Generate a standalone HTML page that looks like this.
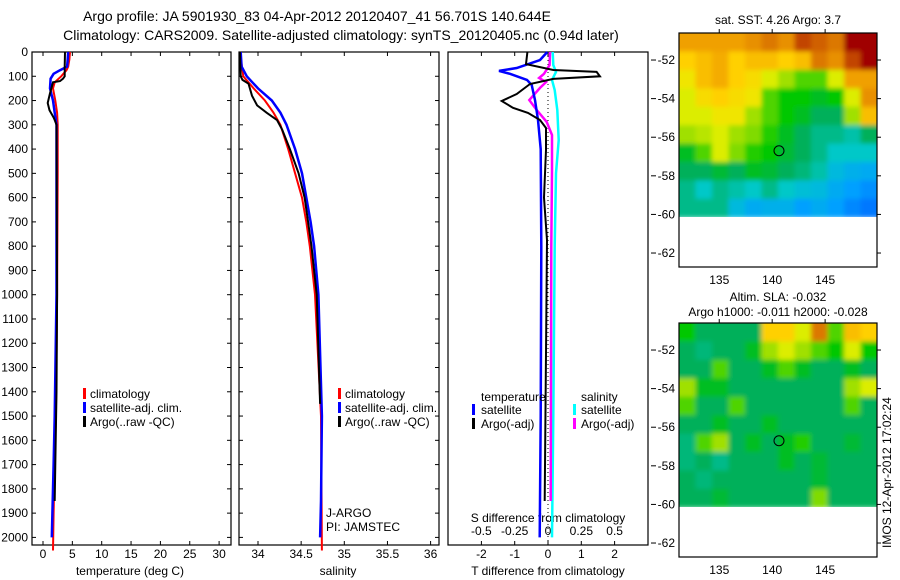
<!DOCTYPE html>
<html><head><meta charset="utf-8"><style>
body{margin:0;background:#fff}
svg{display:block;font-family:"Liberation Sans",sans-serif;font-size:12px}
</style></head><body>
<svg id="c" width="900" height="580" xmlns="http://www.w3.org/2000/svg">
<defs>
<filter id="blur" x="-5%" y="-5%" width="110%" height="110%"><feGaussianBlur stdDeviation="2.5"/></filter>
<clipPath id="clip1"><rect x="679" y="33" width="198" height="184"/></clipPath>
<clipPath id="clip2"><rect x="679" y="323" width="198" height="184"/></clipPath>
</defs>
</svg>
<script>
// ---- data ----
const tClimDepth=[0,30,60,75,100,125,150,200,250,300,500,1000,1500,1700,1900,2054];
const tClimVal=[4.6,4.5,4.3,4.0,3.1,2.0,1.7,2.1,2.4,2.5,2.5,2.4,2.2,2.0,1.8,1.7];
const tSatDepth=[0,30,60,75,90,110,150,200,250,300,1000,1500,1700,1900,2000];
const tSatVal=[4.3,4.2,4.1,2.9,1.8,1.3,1.2,1.7,2.0,2.3,2.3,2.0,1.8,1.6,1.5];
const tArgoDepth=[0,60,100,110,120,125,170,210,240,270,280,300,1000,1400,1850];
const tArgoVal=[3.75,3.7,3.7,3.4,2.9,1.7,1.2,0.8,1.1,1.8,2.0,2.3,2.4,2.3,2.0];
const sClimDepth=[0,100,150,200,250,300,400,500,600,700,800,1000,1500,2054];
const sClimVal=[33.79,33.83,33.95,34.08,34.18,34.26,34.35,34.43,34.51,34.56,34.6,34.66,34.73,34.74];
const sSatDepth=[0,60,100,150,200,250,300,400,500,600,700,800,1000,1500,1850,2000];
const sSatVal=[33.8,33.81,33.87,34.0,34.16,34.26,34.33,34.43,34.51,34.56,34.61,34.65,34.7,34.74,34.73,34.72];
const sArgoDepth=[0,100,115,130,180,220,250,280,320,400,500,600,700,800,900,1000,1450];
const sArgoVal=[33.79,33.8,33.82,33.89,33.93,33.99,34.1,34.22,34.28,34.37,34.47,34.54,34.58,34.62,34.65,34.68,34.72];
const dTSatDepth=[0,33,66,78,90,115,136,198,280,400,800,1500,2000];
const dTSatVal=[-0.02,-0.24,-0.94,-1.47,-1.14,-0.63,-0.49,-0.39,-0.3,-0.22,-0.2,-0.22,-0.25];
const dTArgoDepth=[0,50,74,82,100,111,132,173,202,230,251,280,313,404,600,775,1850];
const dTArgoVal=[-0.62,-0.66,0.16,1.46,1.56,0.16,-0.54,-0.94,-1.39,-1.05,-0.6,-0.24,-0.06,-0.06,-0.12,-0.03,-0.1];
const dSArgoDepth=[0,54,90,107,124,148,198,239,288,342,486,800,1850];
const dSArgoVal=[0.015,0.012,-0.03,-0.067,-0.015,-0.06,-0.14,-0.085,-0.01,0.03,0.03,0.025,0.02];
const dSSatDepth=[0,54,82,115,157,239,363,500,800,1500,2000];
const dSSatVal=[0.035,0.04,0.06,0.03,0.05,0.07,0.08,0.06,0.05,0.04,0.03];
const depthTicks=[0,100,200,300,400,500,600,700,800,900,1000,1100,1200,1300,1400,1500,1600,1700,1800,1900,2000];
const tTicks=[0,5,10,15,20,25,30];
const sTicks=[34,34.5,35,35.5,36];
const sTickLabels=["34","34.5","35","35.5","36"];
const dTTicks=[-2,-1,0,1,2];
const dSTicks=[-0.5,-0.25,0,0.25,0.5];
const dSTickLabels=["-0.5","-0.25","0","0.25","0.5"];
const latTicks=[-52,-54,-56,-58,-60,-62];
const lonTicks=[135,140,145];
const sstGrid=[
[0.8,0.8,0.8,0.8,0.82,0.85,0.82,0.9,0.88,0.85,0.95,0.95],
[0.72,0.75,0.78,0.72,0.75,0.75,0.72,0.75,0.85,0.82,0.9,0.95],
[0.68,0.75,0.78,0.72,0.7,0.65,0.6,0.55,0.55,0.65,0.8,0.8],
[0.65,0.7,0.72,0.7,0.68,0.55,0.5,0.5,0.48,0.5,0.65,0.82],
[0.65,0.65,0.68,0.68,0.6,0.55,0.5,0.48,0.45,0.45,0.6,0.75],
[0.6,0.62,0.65,0.6,0.58,0.52,0.48,0.45,0.42,0.42,0.4,0.45],
[0.48,0.55,0.65,0.58,0.52,0.5,0.47,0.45,0.42,0.38,0.38,0.38],
[0.45,0.45,0.47,0.45,0.48,0.47,0.45,0.43,0.4,0.35,0.33,0.32],
[0.42,0.38,0.42,0.4,0.38,0.42,0.38,0.36,0.35,0.32,0.3,0.28],
[0.42,0.42,0.42,0.35,0.32,0.33,0.33,0.3,0.32,0.3,0.27,0.25]];
const slaGrid=[
[0.5,0.45,0.45,0.45,0.45,0.72,0.72,0.65,0.85,0.55,0.75,0.72],
[0.45,0.43,0.45,0.45,0.48,0.6,0.65,0.6,0.55,0.5,0.65,0.5],
[0.45,0.45,0.55,0.45,0.45,0.48,0.55,0.48,0.45,0.45,0.48,0.45],
[0.6,0.48,0.48,0.45,0.45,0.45,0.45,0.45,0.45,0.45,0.6,0.65],
[0.55,0.45,0.45,0.55,0.45,0.45,0.45,0.45,0.45,0.45,0.55,0.45],
[0.45,0.45,0.48,0.45,0.45,0.48,0.45,0.45,0.45,0.45,0.45,0.45],
[0.43,0.55,0.6,0.45,0.48,0.45,0.48,0.52,0.45,0.45,0.47,0.45],
[0.43,0.45,0.42,0.45,0.45,0.45,0.48,0.45,0.47,0.45,0.45,0.45],
[0.45,0.43,0.45,0.45,0.45,0.45,0.45,0.45,0.47,0.45,0.45,0.45],
[0.45,0.45,0.47,0.45,0.45,0.45,0.45,0.45,0.58,0.45,0.45,0.45]];
const floatLon=140.644, floatLat=-56.701;

// ---- helpers ----
const NS="http://www.w3.org/2000/svg";
const svg=document.getElementById('c');
function el(tag,attrs,parent){const e=document.createElementNS(NS,tag);for(const k in attrs)e.setAttribute(k,attrs[k]);(parent||svg).appendChild(e);return e;}
function txt(x,y,s,anchor,name,extra){const t=el('text',Object.assign({x:x,y:y,'text-anchor':anchor||'start',fill:'#000'},extra||{}));t.textContent=s;


return t;}
const yD=d=>52+d*0.2427;
const pTop=52,pBot=545;

function frame(x0,x1,name){const r=el('rect',{x:x0,y:pTop,width:x1-x0,height:pBot-pTop,fill:'none',stroke:'#000','stroke-width':1.2});

}
function line(depths,vals,fx,color,w,name,extra){
  let p=depths.map((d,i)=>fx(vals[i]).toFixed(1)+','+yD(d).toFixed(1)).join(' ');
  const pl=el('polyline',Object.assign({points:p,fill:'none',stroke:color,'stroke-width':w},extra||{}));
  
  
}
function depthAxis(x0,x1,labels){
  depthTicks.forEach(d=>{const y=yD(d);
    el('line',{x1:x0,y1:y,x2:x0+4,y2:y,stroke:'#000'});
    el('line',{x1:x1,y1:y,x2:x1-4,y2:y,stroke:'#000'});
    if(labels)txt(28,y+4,String(d),'end','depth-tick-label');});
}
function xTicks(vals,labs,fx,ly,tickTop,tickBot,name){
  vals.forEach((v,i)=>{const x=fx(v);
    if(tickTop)el('line',{x1:x,y1:pTop,x2:x,y2:pTop+4,stroke:'#000'});
    if(tickBot)el('line',{x1:x,y1:pBot,x2:x,y2:pBot-4,stroke:'#000'});
    txt(x,ly,labs[i],'middle',name);});
}
function legendBar(x,y,color,name){const r=el('rect',{x:x,y:y-10,width:3,height:11,fill:color});

}

// titles
txt(317,21,"Argo profile: JA 5901930_83 04-Apr-2012 20120407_41 56.701S 140.644E",'middle','figure-title',{'font-size':'14'});
txt(341,40,"Climatology: CARS2009. Satellite-adjusted climatology: synTS_20120405.nc (0.94d later)",'middle','figure-subtitle',{'font-size':'14'});

// ---- panel 1 temperature ----
const fT=v=>43+v*5.87;
frame(32,231,'temperature-panel');
depthAxis(32,231,true);
xTicks(tTicks,tTicks.map(String),fT,558,true,true,'temperature-tick-label');
txt(130,575,"temperature (deg C)",'middle','temperature-axis-title');
line(tClimDepth,tClimVal,fT,'#f00',2,'temperature-climatology-line');
line(tSatDepth,tSatVal,fT,'#00f',2.5,'temperature-satellite-line');
line(tArgoDepth,tArgoVal,fT,'#000',2,'temperature-argo-line');
legendBar(83,398,'#f00','legend-climatology-swatch');txt(90,398,"climatology",'start','legend-climatology');
legendBar(83,412,'#00f','legend-satellite-swatch');txt(90,412,"satellite-adj. clim.",'start','legend-satellite');
legendBar(83,426,'#000','legend-argo-swatch');txt(90,426,"Argo(..raw -QC)",'start','legend-argo');

// ---- panel 2 salinity ----
const fS=v=>258+(v-34)*86.3;
frame(239,439,'salinity-panel');
depthAxis(239,439,false);
xTicks(sTicks,sTickLabels,fS,558,true,true,'salinity-tick-label');
txt(338,575,"salinity",'middle','salinity-axis-title');
line(sClimDepth,sClimVal,fS,'#f00',2,'salinity-climatology-line');
line(sSatDepth,sSatVal,fS,'#00f',2.5,'salinity-satellite-line');
line(sArgoDepth,sArgoVal,fS,'#000',2,'salinity-argo-line');
legendBar(338,398,'#f00','legend-s-climatology-swatch');txt(345,398,"climatology",'start','legend-s-climatology');
legendBar(338,412,'#00f','legend-s-satellite-swatch');txt(345,412,"satellite-adj. clim.",'start','legend-s-satellite');
legendBar(338,426,'#000','legend-s-argo-swatch');txt(345,426,"Argo(..raw -QC)",'start','legend-s-argo');
txt(326,517,"J-ARGO",'start','project-label');
txt(326,531,"PI: JAMSTEC",'start','pi-label');

// ---- panel 3 differences ----
const fDT=v=>548+v*33.3;
const fDS=v=>548+v*133.3;
frame(448,648,'difference-panel');
el('line',{x1:548,y1:pTop,x2:548,y2:pBot,stroke:'#000','stroke-dasharray':'1,3'});
xTicks(dTTicks,dTTicks.map(String),fDT,558,true,true,'t-difference-tick-label');
dSTicks.forEach((v,i)=>{txt(fDS(v),535,dSTickLabels[i],'middle','s-difference-tick-label');});
txt(548,575,"T difference from climatology",'middle','t-difference-axis-title');
txt(548,522,"S difference from climatology",'middle','s-difference-axis-title');
line(dSSatDepth,dSSatVal,fDS,'#0ff',2.5,'s-diff-satellite-line');
line(dSArgoDepth,dSArgoVal,fDS,'#f0f',2.5,'s-diff-argo-line');
line(dTSatDepth,dTSatVal,fDT,'#00f',2.5,'t-diff-satellite-line');
line(dTArgoDepth,dTArgoVal,fDT,'#000',2,'t-diff-argo-line');
txt(481,401,"temperature",'start','legend-temperature-heading');
legendBar(472,414,'#00f','legend-t-satellite-swatch');txt(481,414,"satellite",'start','legend-t-satellite');
legendBar(472,428,'#000','legend-t-argo-swatch');txt(481,428,"Argo(-adj)",'start','legend-t-argo');
txt(581,401,"salinity",'start','legend-salinity-heading');
legendBar(573,414,'#0ff','legend-s-sat-swatch');txt(581,414,"satellite",'start','legend-s-sat');
legendBar(573,428,'#f0f','legend-s-argo-adj-swatch');txt(581,428,"Argo(-adj)",'start','legend-s-argo-adj');

// ---- maps ----
const stops=[[0.2,[0,80,255]],[0.3,[0,160,255]],[0.38,[0,200,200]],[0.45,[0,176,90]],[0.5,[0,200,0]],[0.6,[160,224,0]],[0.66,[232,240,0]],[0.72,[255,208,0]],[0.8,[240,160,0]],[0.88,[208,96,0]],[0.95,[160,0,0]]];
function cmap(v){if(v<=stops[0][0])return stops[0][1];for(let i=1;i<stops.length;i++){if(v<=stops[i][0]){const a=stops[i-1],b=stops[i],t=(v-a[0])/(b[0]-a[0]);return a[1].map((c,k)=>Math.round(c+(b[1][k]-c)*t));}}return stops[stops.length-1][1];}
const mx0=679,mx1=877,lon0=131.2,lon1=149.9,lat0=-50.6,pxLat=19.3;
const fLon=v=>mx0+(v-lon0)*(mx1-mx0)/(lon1-lon0);
function drawMap(mt,grid,name,clipId){
  const fLat=v=>mt+(lat0-v)*pxLat;
  const outer=el('g',{'clip-path':'url(#'+clipId+')'});
  const g=el('g',{filter:'url(#blur)'},outer);
  
  
  const rows=grid.length,cols=grid[0].length;
  const dataBot=fLat(-60.15);const cw=(mx1-mx0)/cols,ch=(dataBot-mt)/rows;
  grid.forEach((row,r)=>row.forEach((v,c)=>{const col=cmap(v);
    let x=mx0+c*cw,y=mt+r*ch,w=cw+0.6,h=ch+0.6;
    if(c===0){x-=6;w+=6;} if(c===cols-1){w+=6;} if(r===0){y-=6;h+=6;}
    const cell=el('rect',{x:x.toFixed(2),y:y.toFixed(2),width:w.toFixed(2),height:h.toFixed(2),fill:'rgb('+col.join(',')+')'},g);
    
    
  }));
  const mb=mt+234;
  el('rect',{x:mx0,y:mt,width:mx1-mx0,height:mb-mt,fill:'none',stroke:'#000','stroke-width':1.2});
  latTicks.forEach(l=>{const y=fLat(l);
    el('line',{x1:mx1,y1:y,x2:mx1+4,y2:y,stroke:'#000'});
    el('line',{x1:651,y1:y,x2:656,y2:y,stroke:'#000'});
    txt(675,y+4,String(l),'end','latitude-tick-label');});
  lonTicks.forEach(l=>{const x=fLon(l);
    el('line',{x1:x,y1:mt,x2:x,y2:mt-4,stroke:'#000'});
    txt(x,mb+17,String(l),'middle','longitude-tick-label');});
  const ci=el('circle',{cx:fLon(floatLon),cy:fLat(floatLat),r:5,fill:'none',stroke:'#000','stroke-width':1});
  
  
}
drawMap(33,sstGrid,'sst-map','clip1');
txt(778,24,"sat. SST: 4.26 Argo: 3.7",'middle','sst-map-title');
drawMap(323,slaGrid,'sla-map','clip2');
txt(778,301,"Altim. SLA: -0.032",'middle','sla-map-title');
txt(778,316,"Argo h1000: -0.011 h2000: -0.028",'middle','sla-map-subtitle');
txt(0,0,"IMOS 12-Apr-2012 17:02:24",'start','imos-timestamp',{transform:'translate(891,548) rotate(-90)'});
</script>
</body></html>
